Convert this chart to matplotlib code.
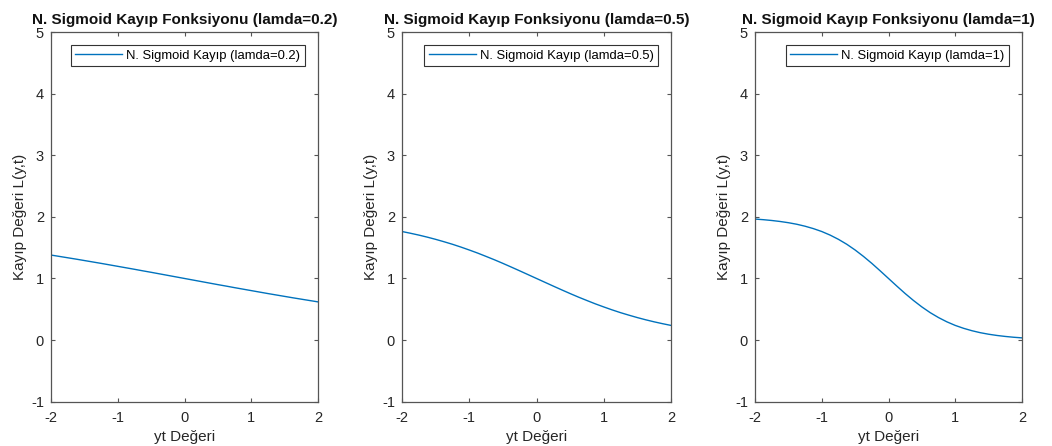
import matplotlib
matplotlib.use("Agg")
import matplotlib.pyplot as plt

plt.rcParams['font.family'] = ['Liberation Sans', 'DejaVu Sans']
plt.rcParams['axes.unicode_minus'] = False

yt = [-2.0, -1.875, -1.75, -1.625, -1.5, -1.375, -1.25, -1.125,
      -1.0, -0.875, -0.75, -0.625, -0.5, -0.375, -0.25, -0.125, 0.0,
      0.125, 0.25, 0.375, 0.5, 0.625, 0.75, 0.875, 1.0,
      1.125, 1.25, 1.375, 1.5, 1.625, 1.75, 1.875, 2.0]
loss_02 = [1.380, 1.358, 1.336, 1.314, 1.291, 1.268, 1.245, 1.221,
           1.197, 1.173, 1.149, 1.124, 1.100, 1.075, 1.050, 1.025, 1.000,
           0.975, 0.950, 0.925, 0.900, 0.876, 0.851, 0.827, 0.803,
           0.779, 0.755, 0.732, 0.709, 0.686, 0.664, 0.642, 0.620]
loss_05 = [1.762, 1.734, 1.704, 1.671, 1.635, 1.596, 1.555, 1.510,
           1.462, 1.412, 1.358, 1.303, 1.245, 1.185, 1.124, 1.062, 1.000,
           0.938, 0.876, 0.815, 0.755, 0.697, 0.642, 0.588, 0.538,
           0.490, 0.445, 0.404, 0.365, 0.329, 0.296, 0.266, 0.238]
loss_1 = [1.964, 1.954, 1.941, 1.925, 1.905, 1.880, 1.848, 1.809,
          1.762, 1.704, 1.635, 1.555, 1.462, 1.358, 1.245, 1.124, 1.000,
          0.876, 0.755, 0.642, 0.538, 0.445, 0.365, 0.296, 0.238,
          0.191, 0.152, 0.120, 0.095, 0.075, 0.059, 0.046, 0.036]
lamdas = ['0.2', '0.5', '1']
series = [loss_02, loss_05, loss_1]
xticks = [-2, -1, 0, 1, 2]
yticks = [-1, 0, 1, 2, 3, 4, 5]

W, H = 1052, 446
fig = plt.figure(figsize=(W / 100, H / 100), dpi=100)
lefts = [51, 402, 755]
rights = [318, 671, 1022]
top, bottom = 32, 401.7
axcol = '#555555'
txtcol = '#262626'

for i in range(3):
    ax = fig.add_axes([lefts[i] / W, (H - bottom) / H,
                       (rights[i] - lefts[i]) / W, (bottom - top) / H])
    ax.plot(yt, series[i], color='#0072BD', lw=1.0,
            label=f'N. Sigmoid Kayıp (lamda={lamdas[i]})')
    ax.set_xlim(-2, 2)
    ax.set_ylim(-1, 5)
    ax.set_xticks(xticks)
    ax.set_yticks(yticks)
    ax.tick_params(direction='in', length=3, width=0.8, colors=axcol,
                   labelcolor=txtcol, labelsize=10.5, top=True, right=True)
    ax.tick_params(axis='x', pad=7)
    ax.tick_params(axis='y', pad=5)
    for s in ax.spines.values():
        s.set_color(axcol)
        s.set_linewidth(0.9)
    ax.set_title(f'N. Sigmoid Kayıp Fonksiyonu (lamda={lamdas[i]})',
                 fontsize=11, fontweight='bold', color='#111111', pad=6)
    ax.set_xlabel('yt Değeri', fontsize=11, color=txtcol, labelpad=3)
    ax.set_ylabel('Kayıp Değeri L(y,t)', fontsize=11, color=txtcol, labelpad=3)
    leg = ax.legend(loc='upper right', fontsize=9.4, fancybox=False,
                    framealpha=1, edgecolor='#333333', borderaxespad=1.0,
                    handlelength=3.6, borderpad=0.35, handletextpad=0.3)
    leg.get_frame().set_linewidth(0.8)

fig.savefig('out.png', dpi=100)
